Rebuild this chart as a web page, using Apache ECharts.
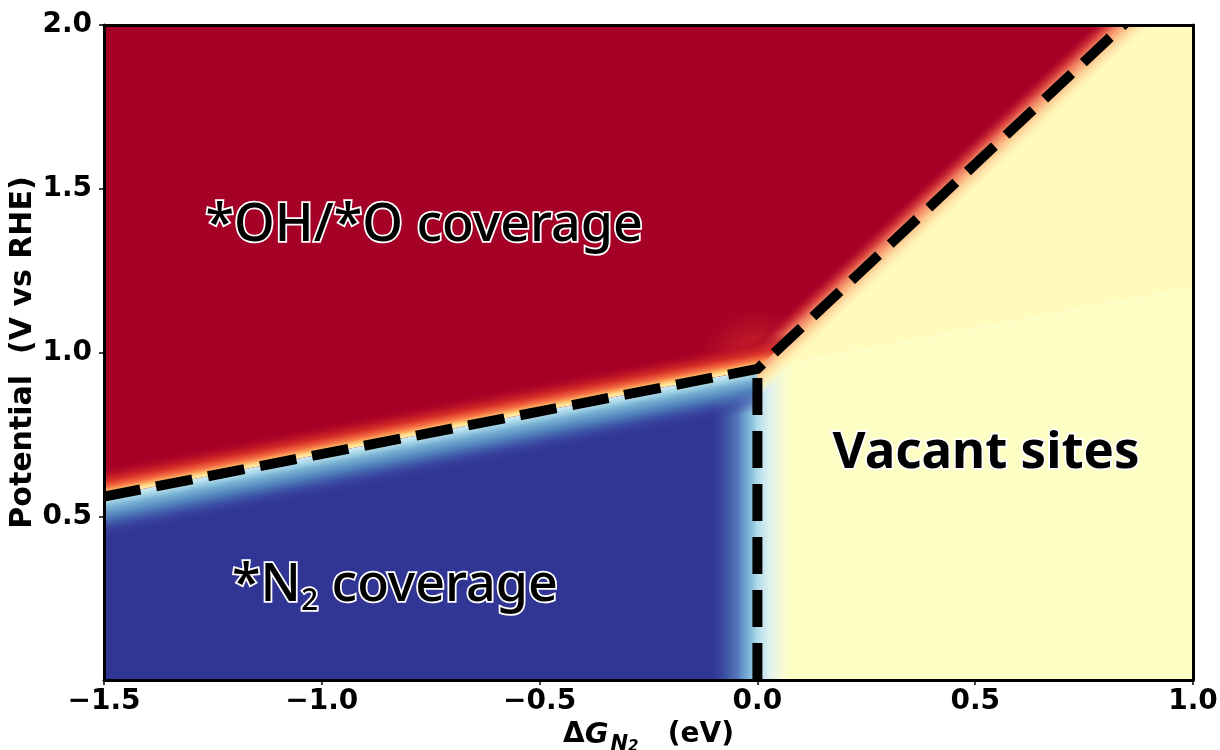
<!DOCTYPE html>
<html><head><meta charset="utf-8">
<script src="https://cdn.jsdelivr.net/npm/echarts@6/dist/echarts.min.js"></script>
<style>html,body{margin:0;padding:0;background:#fff}#c{width:1220px;height:750px}</style>
</head><body><div id="c"></div>
<script>
// ---- data ----
const xRange = [-1.5, 1.0];
const yRange = [0, 2.0];
const xTickStep = 0.5;
const yTickValues = [0.5, 1.0, 1.5, 2.0];
const triplePoint = [0.0, 0.95];
const boundaryOHN2 = [[-1.5, 0.56], [0.0, 0.95]];
const boundaryOHVac = [[0.0, 0.95], [0.84, 2.0]];
const boundaryN2Vac = [[0.0, 0.0], [0.0, 0.95]];
const regionOH = [[-1.5, 0.56], [0.0, 0.95], [0.84, 2.0], [-1.5, 2.0]];
const regionN2 = [[-1.5, 0.0], [-1.5, 0.56], [0.0, 0.95], [0.0, 0.0]];
const regionVacLow = [[0.0, 0.0], [0.0, 0.95], [1.0, 1.2], [1.0, 0.0]];
const regionVacHigh = [[0.0, 0.95], [0.84, 2.0], [1.0, 2.0], [1.0, 1.2]];
const labelTexts = ['*OH/*O coverage', '*N2 coverage', 'Vacant sites'];
const labelPos = [[-0.765, 1.386], [-1.206, 0.287], [0.525, 0.693]];

const chart = echarts.init(document.getElementById('c'), null, {renderer: 'canvas'});

function fmtTick(v) {
  if (Math.abs(v) < 1e-9) return '0.0';
  return (v < 0 ? '\u2212' : '') + Math.abs(v).toFixed(1);
}

function renderRegions(params, api) {
  const c = p => api.coord(p);
  const cen = pts => { let sx = 0, sy = 0; pts.forEach(p => { sx += p[0]; sy += p[1]; }); return [sx / pts.length, sy / pts.length]; };
  const nrm = (a, b, inside) => {
    const dx = b[0] - a[0], dy = b[1] - a[1], L = Math.hypot(dx, dy);
    let nx = -dy / L, ny = dx / L;
    if ((inside[0] - a[0]) * nx + (inside[1] - a[1]) * ny < 0) { nx = -nx; ny = -ny; }
    return [nx, ny];
  };
  const lin = (a, n, w, stops) => new echarts.graphic.LinearGradient(a[0], a[1], a[0] + n[0] * w, a[1] + n[1] * w,
    stops.map(s => ({offset: s[0], color: s[1]})), true);
  const rad = (p, r, stops) => new echarts.graphic.RadialGradient(p[0], p[1], r,
    stops.map(s => ({offset: s[0], color: s[1]})), true);
  const poly = (pts, fill) => ({type: 'polygon', shape: {points: pts}, style: {fill: fill}, silent: true});
  const extend = (a, b, f) => [b[0] + (b[0] - a[0]) * f, b[1] + (b[1] - a[1]) * f];

  const OH = regionOH.map(c), N2 = regionN2.map(c), VL = regionVacLow.map(c), VH = regionVacHigh.map(c);
  const A0 = c(boundaryOHN2[0]), A1 = c(boundaryOHN2[1]);
  const B0 = c(boundaryN2Vac[0]), B1 = c(boundaryN2Vac[1]);
  const C0 = c(boundaryOHVac[0]), C1 = c(boundaryOHVac[1]);
  const T = c(triplePoint);
  const cOH = cen(OH), cN2 = cen(N2), cV = cen(VL);
  const ch = [];
  // N2 region
  ch.push(poly(N2, '#313695'));
  ch.push(poly(N2, rad(T, 60, [[0, 'rgba(171,217,233,0.9)'], [0.5, 'rgba(116,173,209,0.45)'], [1, 'rgba(69,117,180,0)']])));
  ch.push(poly(N2, lin(B1, nrm(B0, B1, cN2), 46, [[0, '#abd9e9'], [0.11, '#8ec3de'], [0.3, '#6a9ccc'], [0.43, '#5577bb'], [0.59, '#4563ab'], [0.87, 'rgba(58,72,160,0.5)'], [1, 'rgba(49,54,149,0)']])));
  ch.push(poly(N2, lin(A1, nrm(A0, A1, cN2), 42, [[0, '#d4ecf4'], [0.12, '#abd9e9'], [0.28, '#74add1'], [0.5, '#4f7fbb'], [0.75, 'rgba(62,80,165,0.6)'], [1, 'rgba(49,54,149,0)']])));
  // OH region
  ch.push(poly(OH, '#a50026'));
  ch.push(poly(OH, rad(T, 75, [[0, 'rgba(244,109,67,0.8)'], [0.4, 'rgba(215,48,39,0.5)'], [1, 'rgba(165,0,38,0)']])));
  ch.push(poly(OH, lin(C0, nrm(C0, C1, cOH), 22, [[0, '#f8a070'], [0.22, '#ee7c62'], [0.45, '#d8423c'], [0.75, 'rgba(184,20,47,0.7)'], [1, 'rgba(165,0,38,0)']])));
  ch.push(poly(OH, lin(A1, nrm(A0, A1, cOH), 30, [[0, '#fff2b0'], [0.09, '#fee090'], [0.18, '#fdae61'], [0.3, '#f46d43'], [0.5, '#d73027'], [0.78, 'rgba(185,15,38,0.6)'], [1, 'rgba(165,0,38,0)']])));
  // vacant region
  ch.push(poly(VL, '#fdfec4'));
  ch.push(poly(VH, '#fffbbd'));
  ch.push(poly(VL, lin(B0, nrm(B0, B1, cV), 38, [[0, '#abd9e9'], [0.13, '#c5e5ef'], [0.34, '#e2f2ee'], [0.6, '#f3f8d6'], [1, 'rgba(253,254,196,0)']])));
  const vacC = [[0, '#f8a070'], [0.23, '#fcc890'], [0.48, '#fde4a8'], [0.75, 'rgba(255,245,184,0.8)'], [1, 'rgba(255,251,189,0)']];
  const nC = nrm(C0, C1, cV);
  ch.push(poly(VH, lin(C0, nC, 22, vacC)));
  ch.push(poly(VL, lin(C0, nC, 22, vacC)));
  // dashed boundaries (clipped to the plot by the series clip)
  const dash = {stroke: '#000', lineWidth: 10, lineDash: [37, 16], fill: null, lineCap: 'butt', lineJoin: 'miter'};
  ch.push({type: 'polyline', shape: {points: [A0, A1, extend(C0, C1, 0.05)]}, style: dash, silent: true});
  ch.push({type: 'polyline', shape: {points: [B0, B1]}, style: dash, silent: true});
  return {type: 'group', children: ch};
}

function renderLabels(params, api) {
  const p = api.coord([api.value(0), api.value(1)]);
  const i = api.value(2);
  const mk = (under) => {
    const base = under
      ? {fill: '#fff', stroke: '#fff', lineWidth: 3.5, fontFamily: 'Noto Sans', fontSize: 52, fontWeight: 500}
      : {fill: '#000', fontFamily: 'Noto Sans', fontSize: 52, fontWeight: 500};
    const t = labelTexts[i];
    if (i === 1) {
      return {
        text: '{a|' + t.slice(0, 2) + '}{b|' + t.slice(2, 3) + '}{a|' + t.slice(3) + '}',
        align: 'left', verticalAlign: 'middle',
        rich: {
          a: Object.assign({}, base, {lineHeight: 60}),
          b: Object.assign({}, base, {fontSize: 30, lineHeight: 17, verticalAlign: 'bottom'})
        }
      };
    } else if (i === 2) {
      return Object.assign({}, base, {text: t, fontWeight: 'bold', fontSize: 51, align: 'center', verticalAlign: 'middle'});
    }
    return Object.assign({}, base, {text: t, align: 'center', verticalAlign: 'middle'});
  };
  return {type: 'group', children: [
    {type: 'text', x: p[0], y: p[1], style: mk(true), silent: true},
    {type: 'text', x: p[0], y: p[1], style: mk(false), silent: true}
  ]};
}

const tickFont = {fontSize: 28, fontWeight: 'bold', fontFamily: 'DejaVu Sans', color: '#000'};
const lineStyleAxis = {color: '#000', width: 3};
const nameBase = {fontWeight: 'bold', fontFamily: 'DejaVu Sans', color: '#000'};

const option = {
  animation: false,
  backgroundColor: '#fff',
  grid: {left: 104, right: 27, top: 25, bottom: 70, containLabel: false, outerBoundsMode: 'none'},
  xAxis: [{
    type: 'value', min: xRange[0], max: xRange[1], interval: xTickStep, z: 10,
    axisLine: {show: true, onZero: false, lineStyle: lineStyleAxis},
    axisTick: {show: true, inside: false, length: 5, lineStyle: {color: '#000', width: 1.5}},
    axisLabel: Object.assign({margin: 8, formatter: fmtTick}, tickFont),
    splitLine: {show: false},
    name: '{d|\u0394}{g|G}{n|N}{s|2}{d|   (eV)}', nameLocation: 'middle', nameGap: 35, nameMoveOverlap: false,
    nameTextStyle: {
      rich: {
        d: Object.assign({fontSize: 28, lineHeight: 40}, nameBase),
        g: Object.assign({fontSize: 29, fontStyle: 'italic', lineHeight: 40, padding: [0, 2, 0, 0]}, nameBase),
        n: Object.assign({fontSize: 21, fontStyle: 'italic', lineHeight: 20, verticalAlign: 'bottom'}, nameBase),
        s: Object.assign({fontSize: 15, fontStyle: 'italic', lineHeight: 13, verticalAlign: 'bottom'}, nameBase)
      }
    }
  }, {
    type: 'value', position: 'top', min: xRange[0], max: xRange[1], z: 10,
    axisLine: {show: true, onZero: false, lineStyle: lineStyleAxis},
    axisTick: {show: false}, axisLabel: {show: false}, splitLine: {show: false}
  }],
  yAxis: [{
    type: 'value', min: yRange[0], max: yRange[1], interval: 0.5, z: 10,
    axisLine: {show: true, onZero: false, lineStyle: lineStyleAxis},
    axisTick: {show: true, inside: false, length: 5, lineStyle: {color: '#000', width: 1.5}, customValues: yTickValues},
    axisLabel: Object.assign({margin: 12, formatter: fmtTick, customValues: yTickValues}, tickFont),
    splitLine: {show: false},
    name: 'Potential  (V vs RHE)', nameLocation: 'middle', nameGap: 66, nameMoveOverlap: false,
    nameTextStyle: Object.assign({fontSize: 30}, nameBase)
  }, {
    type: 'value', position: 'right', min: yRange[0], max: yRange[1], z: 10,
    axisLine: {show: true, onZero: false, lineStyle: lineStyleAxis},
    axisTick: {show: false}, axisLabel: {show: false}, splitLine: {show: false}
  }],
  series: [
    {type: 'custom', coordinateSystem: 'cartesian2d', xAxisIndex: 0, yAxisIndex: 0, z: 1, silent: true, clip: true,
     renderItem: renderRegions, data: [[0, 0]]},
    {type: 'custom', coordinateSystem: 'cartesian2d', xAxisIndex: 0, yAxisIndex: 0, z: 4, silent: true,
     renderItem: renderLabels, data: labelPos.map((p, i) => [p[0], p[1], i])}
  ]
};
chart.setOption(option);
</script></body></html>
